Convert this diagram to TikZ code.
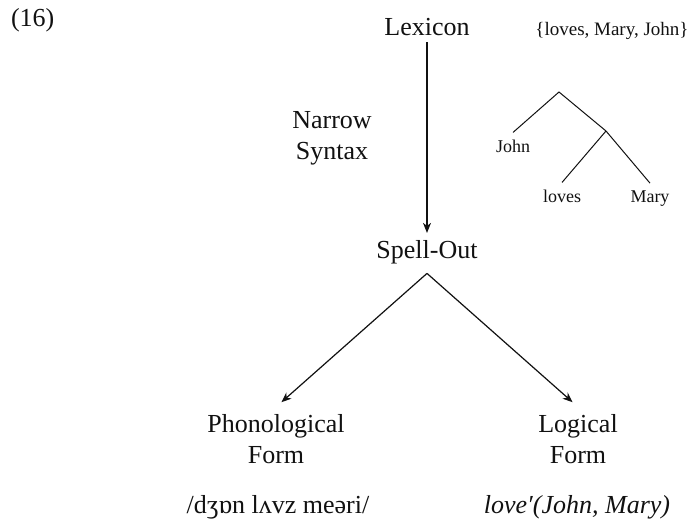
\documentclass[tikz,border=0pt]{standalone}
\usepackage{fontspec}
\setmainfont{Liberation Serif}
\usetikzlibrary{arrows.meta}
\definecolor{spink}{HTML}{111111}
\tikzset{
  sp label/.style={font=\fontsize{13}{15.75}\selectfont, text=spink, align=center},
  sp small/.style={font=\fontsize{9}{10}\selectfont, text=spink},
  sp arrow/.style={-{Stealth[length=5pt,width=4pt,inset=1.5pt]}, line width=0.6pt,
    draw=spink},
  sp branch/.style={line width=0.5pt, draw=spink}
}

\begin{document}
\begin{tikzpicture}[x=0.5pt, y=-0.5pt]
  \useasboundingbox (0,0) rectangle (697,530);
  \node[sp label, anchor=base west] (ex) at (4,26) {(16)};
  % derivation
  \node[sp label, anchor=base] (lex) at (427,35) {Lexicon};
  \node[sp label, anchor=base] (spell) at (427,258) {Spell-Out};
  \node[sp label, anchor=north] (ns) at (332,104) {Narrow\\Syntax};
  \node[sp label, anchor=north] (pf) at (276,407) {Phonological\\Form};
  \node[sp label, anchor=north] (lf) at (578,407) {Logical\\Form};
  \coordinate (split) at ([yshift=-1.4pt]spell.south);
  \draw[sp arrow] (lex.south) -- (spell.north);
  \draw[sp arrow, shorten >=3.6pt] (split) -- (pf.north);
  \draw[sp arrow, shorten >=3.6pt] (split) -- (lf.north);
  \node[sp label, anchor=base] (ipa) at (278,513) {/dʒɒn lʌvz meəri/};
  \node[sp label, anchor=base] (sem) at (577,513) {\itshape love′(John, Mary)};
  % numeration and tree
  \node[sp small, font=\fontsize{9.5}{11}\selectfont, anchor=base] (num) at (612,35)
    {\{loves, Mary, John\}};
  \coordinate (root) at (559,92);
  \coordinate (vp) at (606,131);
  \node[sp small, anchor=base] (john) at (513,152) {John};
  \node[sp small, anchor=base] (loves) at (562,202) {loves};
  \node[sp small, anchor=base] (mary) at (650,202) {Mary};
  \draw[sp branch] (john.north) -- (root) -- (vp) -- (loves.north)
    (vp) -- (mary.north);
\end{tikzpicture}
\end{document}
